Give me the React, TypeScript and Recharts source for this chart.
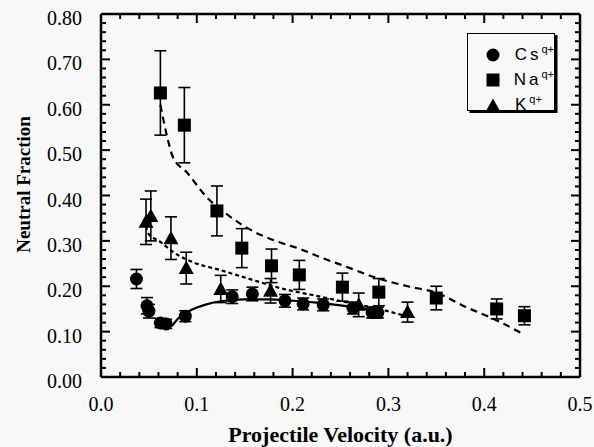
import React from 'react';
import { ComposedChart, Scatter, Line, XAxis, YAxis, ErrorBar, Legend, Label } from 'recharts';

// ---- measured data ----
const csVelocity = [0.037, 0.048, 0.050, 0.062, 0.068, 0.088, 0.137, 0.158, 0.192, 0.211, 0.232, 0.263, 0.283, 0.289];
const csFraction = [0.216, 0.157, 0.145, 0.119, 0.117, 0.134, 0.177, 0.183, 0.168, 0.161, 0.159, 0.152, 0.142, 0.142];
const csError = [0.021, 0.018, 0.015, 0.01, 0.01, 0.012, 0.015, 0.015, 0.014, 0.013, 0.013, 0.013, 0.012, 0.012];

const naVelocity = [0.062, 0.087, 0.121, 0.147, 0.178, 0.207, 0.252, 0.290, 0.350, 0.413, 0.442];
const naFraction = [0.626, 0.555, 0.366, 0.284, 0.245, 0.225, 0.198, 0.187, 0.174, 0.150, 0.135];
const naError = [0.093, 0.083, 0.055, 0.043, 0.037, 0.032, 0.031, 0.03, 0.026, 0.022, 0.02];

const kVelocity = [0.047, 0.052, 0.073, 0.089, 0.125, 0.177, 0.269, 0.320];
const kFraction = [0.342, 0.355, 0.306, 0.240, 0.194, 0.190, 0.159, 0.143];
const kError = [0.05, 0.055, 0.047, 0.035, 0.03, 0.027, 0.026, 0.022];

// ---- fitted curves ----
const naFitVelocity = [0.062, 0.069, 0.075, 0.09, 0.11, 0.135, 0.16, 0.185, 0.208, 0.229, 0.26, 0.288, 0.32, 0.351, 0.38, 0.41, 0.442];
const naFitFraction = [0.60, 0.53, 0.485, 0.45, 0.397, 0.353, 0.32, 0.298, 0.282, 0.264, 0.24, 0.218, 0.20, 0.185, 0.155, 0.128, 0.093];

const kFitVelocity = [0.047, 0.049, 0.062, 0.075, 0.096, 0.124, 0.152, 0.187, 0.229, 0.26, 0.29, 0.32];
const kFitFraction = [0.332, 0.317, 0.298, 0.276, 0.253, 0.236, 0.218, 0.196, 0.177, 0.163, 0.15, 0.133];

const csFitVelocity = [0.074, 0.08, 0.09, 0.10, 0.11, 0.125, 0.15, 0.175, 0.2, 0.225, 0.25, 0.27, 0.29];
const csFitFraction = [0.112, 0.128, 0.143, 0.153, 0.16, 0.167, 0.171, 0.171, 0.168, 0.164, 0.158, 0.152, 0.145];

// ---- ticks ----
const xMajorTicks = [0, 0.1, 0.2, 0.3, 0.4, 0.5];
const xMinorTicks = [0, 0.02, 0.04, 0.06, 0.08, 0.1, 0.12, 0.14, 0.16, 0.18, 0.2, 0.22, 0.24, 0.26, 0.28, 0.3, 0.32, 0.34, 0.36, 0.38, 0.4, 0.42, 0.44, 0.46, 0.48, 0.5];
const yMajorTicks = [0, 0.1, 0.2, 0.3, 0.4, 0.5, 0.6, 0.7, 0.8];
const yMinorTicks = [0, 0.02, 0.04, 0.06, 0.08, 0.1, 0.12, 0.14, 0.16, 0.18, 0.2, 0.22, 0.24, 0.26, 0.28, 0.3, 0.32, 0.34, 0.36, 0.38, 0.4, 0.42, 0.44, 0.46, 0.48, 0.5, 0.52, 0.54, 0.56, 0.58, 0.6, 0.62, 0.64, 0.66, 0.68, 0.7, 0.72, 0.74, 0.76, 0.78, 0.8];

const legendItems = [
  { label: 'Cs', symbol: 'circle' },
  { label: 'Na', symbol: 'square' },
  { label: 'K', symbol: 'triangle' },
];

const pts = (xs: number[], ys: number[], es?: number[]) =>
  xs.map((x, i) => ({ x, y: ys[i], e: es ? es[i] : 0 }));

const csData = pts(csVelocity, csFraction, csError);
const naData = pts(naVelocity, naFraction, naError);
const kData = pts(kVelocity, kFraction, kError);
const naFit = pts(naFitVelocity, naFitFraction);
const kFit = pts(kFitVelocity, kFitFraction);
const csFit = pts(csFitVelocity, csFitFraction);

// tick-mark positions on the four frame edges (axis domain ends)
const bottomMarks = xMinorTicks.map((x) => ({ x, y: 0 }));
const topMarks = xMinorTicks.map((x) => ({ x, y: 0.8 }));
const leftMarks = yMinorTicks.map((y) => ({ x: 0, y }));
const rightMarks = yMinorTicks.map((y) => ({ x: 0.5, y }));

const SERIF = 'Liberation Serif';
const SANS = 'Liberation Sans';
const INK = '#000';
const AXIS_LINE = { stroke: INK, strokeWidth: 2.5 };
const MAJOR = 9;
const MINOR = 5;

const isMajor = (v: number) => Math.abs(v * 10 - Math.round(v * 10)) < 1e-6;

const BottomMark = (p: any) => (
  <line x1={p.cx} y1={p.cy} x2={p.cx} y2={p.cy - (isMajor(p.payload.x) ? MAJOR : MINOR)} stroke={INK} strokeWidth={2} />
);
const TopMark = (p: any) => (
  <line x1={p.cx} y1={p.cy} x2={p.cx} y2={p.cy + (isMajor(p.payload.x) ? MAJOR : MINOR)} stroke={INK} strokeWidth={2} />
);
const LeftMark = (p: any) => (
  <line x1={p.cx} y1={p.cy} x2={p.cx + (isMajor(p.payload.y) ? MAJOR : MINOR)} y2={p.cy} stroke={INK} strokeWidth={2} />
);
const RightMark = (p: any) => (
  <line x1={p.cx} y1={p.cy} x2={p.cx - (isMajor(p.payload.y) ? MAJOR : MINOR)} y2={p.cy} stroke={INK} strokeWidth={2} />
);

const BottomLabel = (p: any) => (
  <text x={p.x} y={p.y + 20} dy="0.71em" textAnchor="middle" fontFamily={SERIF} fontSize={20} fill={INK}>
    {Number(p.payload.value).toFixed(1)}
  </text>
);
const LeftLabel = (p: any) => (
  <text x={p.x - 19} y={p.y + 4} dy="0.35em" textAnchor="end" fontFamily={SERIF} fontSize={20} fill={INK}>
    {Number(p.payload.value).toFixed(2)}
  </text>
);

const XTitle = (p: any) => {
  const vb = p.viewBox;
  return (
    <text x={vb.x + vb.width / 2} y={vb.y + 65} textAnchor="middle" fontFamily={SERIF} fontWeight="bold" fontSize={22} fill={INK}>
      Projectile Velocity (a.u.)
    </text>
  );
};
const YTitle = (p: any) => {
  const vb = p.viewBox;
  const cx = vb.x + 23;
  const cy = vb.y + vb.height / 2 - 11;
  return (
    <text x={cx} y={cy} dy="0.35em" transform={`rotate(-90, ${cx}, ${cy})`} textAnchor="middle" fontFamily={SERIF} fontWeight="bold" fontSize={19} fill={INK}>
      Neutral Fraction
    </text>
  );
};

const CircleShape = (p: any) => <circle cx={p.cx} cy={p.cy} r={6.5} fill={INK} />;
const SquareShape = (p: any) => <rect x={p.cx - 6.5} y={p.cy - 6.5} width={13} height={13} fill={INK} />;
const TriangleShape = (p: any) => (
  <polygon points={`${p.cx},${p.cy - 7.5} ${p.cx + 7.5},${p.cy + 6} ${p.cx - 7.5},${p.cy + 6}`} fill={INK} />
);

const LegendSymbol = ({ kind }: { kind: string }) => (
  <svg width={16} height={16} style={{ display: 'block' }}>
    {kind === 'circle' && <circle cx={8} cy={8} r={6.5} fill={INK} />}
    {kind === 'square' && <rect x={1.5} y={1.5} width={13} height={13} fill={INK} />}
    {kind === 'triangle' && <polygon points="8,1.5 15,14 1,14" fill={INK} />}
  </svg>
);

const renderLegend = () => (
  <div
    style={{
      width: 88,
      height: 78,
      boxSizing: 'border-box',
      border: `1.5px solid ${INK}`,
      boxShadow: `2.5px 2px 0 ${INK}`,
      background: '#f8f8f8',
      paddingTop: 8,
    }}
  >
    {legendItems.map((it) => (
      <div key={it.label} style={{ display: 'flex', alignItems: 'center', height: 25 }}>
        <div style={{ width: 18, marginLeft: 17 }}>
          <LegendSymbol kind={it.symbol} />
        </div>
        <span
          style={{
            marginLeft: 12,
            fontFamily: SANS,
            fontSize: 17,
            letterSpacing: 3,
            color: INK,
            lineHeight: '20px',
            whiteSpace: 'nowrap',
          }}
        >
          {it.label}
          <sup style={{ fontSize: 11, letterSpacing: 0, verticalAlign: 7, lineHeight: '11px' }}>q+</sup>
        </span>
      </div>
    ))}
  </div>
);

const xCommon = { type: 'number' as const, dataKey: 'x', domain: [0, 0.5], allowDataOverflow: true, interval: 0 as const };
const yCommon = { type: 'number' as const, domain: [0, 0.8], allowDataOverflow: true, interval: 0 as const };

export default function App() {
  return (
    <div style={{ width: 594, height: 447, background: '#f8f8f8', position: 'relative' }}>
      <style>{`body{margin:0;background:#f8f8f8;}`}</style>
      <ComposedChart width={594} height={447} margin={{ top: 13, right: 13, bottom: 0, left: 0 }}>
        <XAxis {...xCommon} xAxisId="b" orientation="bottom" ticks={xMajorTicks} height={70}
          tickSize={0} tickMargin={0} tickLine={false} axisLine={AXIS_LINE}
          tick={(p: any) => <BottomLabel {...p} />}>
          <Label content={XTitle} />
        </XAxis>
        <XAxis {...xCommon} xAxisId="t" orientation="top" ticks={xMajorTicks} height={1}
          tickSize={0} tickLine={false} axisLine={AXIS_LINE} tick={false} />
        <YAxis {...yCommon} yAxisId="l" orientation="left" ticks={yMajorTicks} width={101}
          tickSize={0} tickMargin={0} tickLine={false} axisLine={AXIS_LINE}
          tick={(p: any) => <LeftLabel {...p} />}>
          <Label content={YTitle} />
        </YAxis>
        <YAxis {...yCommon} yAxisId="r" orientation="right" ticks={yMajorTicks} width={1}
          tickSize={0} tickLine={false} axisLine={AXIS_LINE} tick={false} />
        <Legend
          layout="vertical"
          align="center"
          verticalAlign="middle"
          content={renderLegend}
          wrapperStyle={{ left: 467, top: 33, width: 90, height: 80 }}
        />
        {/* frame tick marks, placed through the axis scales */}
        <Scatter xAxisId="b" yAxisId="l" data={bottomMarks} dataKey="y" shape={BottomMark} isAnimationActive={false} legendType="none" />
        <Scatter xAxisId="b" yAxisId="l" data={topMarks} dataKey="y" shape={TopMark} isAnimationActive={false} legendType="none" />
        <Scatter xAxisId="b" yAxisId="l" data={leftMarks} dataKey="y" shape={LeftMark} isAnimationActive={false} legendType="none" />
        <Scatter xAxisId="b" yAxisId="l" data={rightMarks} dataKey="y" shape={RightMark} isAnimationActive={false} legendType="none" />

        <Line xAxisId="b" yAxisId="l" data={naFit} dataKey="y" type="monotone" stroke={INK} strokeWidth={2.2} strokeDasharray="7 5" dot={false} activeDot={false} isAnimationActive={false} legendType="none" />
        <Line xAxisId="b" yAxisId="l" data={kFit} dataKey="y" type="monotone" stroke={INK} strokeWidth={2.2} strokeDasharray="4 3" dot={false} activeDot={false} isAnimationActive={false} legendType="none" />
        <Line xAxisId="b" yAxisId="l" data={csFit} dataKey="y" type="monotone" stroke={INK} strokeWidth={2.2} dot={false} activeDot={false} isAnimationActive={false} legendType="none" />
        <Scatter xAxisId="b" yAxisId="l" name="Cs" data={csData} dataKey="y" shape={CircleShape} isAnimationActive={false}>
          <ErrorBar dataKey="e" direction="y" width={6} stroke={INK} strokeWidth={1.6} />
        </Scatter>
        <Scatter xAxisId="b" yAxisId="l" name="Na" data={naData} dataKey="y" shape={SquareShape} isAnimationActive={false}>
          <ErrorBar dataKey="e" direction="y" width={6} stroke={INK} strokeWidth={1.6} />
        </Scatter>
        <Scatter xAxisId="b" yAxisId="l" name="K" data={kData} dataKey="y" shape={TriangleShape} isAnimationActive={false}>
          <ErrorBar dataKey="e" direction="y" width={6} stroke={INK} strokeWidth={1.6} />
        </Scatter>
      </ComposedChart>
    </div>
  );
}
